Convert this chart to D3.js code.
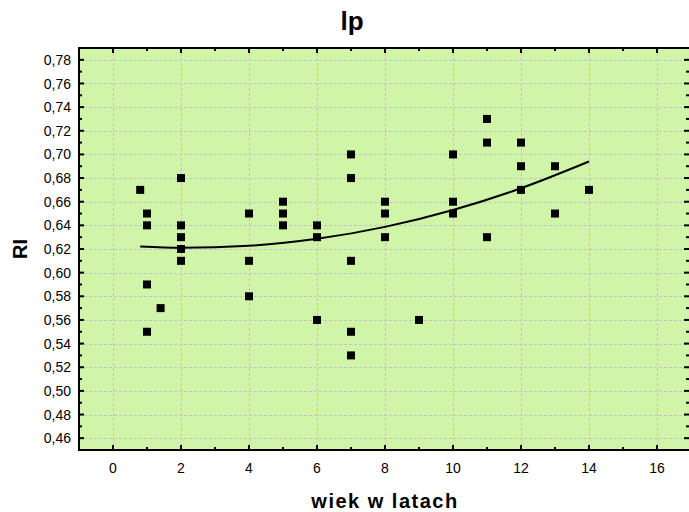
<!DOCTYPE html>
<html><head><meta charset="utf-8">
<script src="https://cdn.jsdelivr.net/npm/d3@7"></script>
<style>body{margin:0;background:#fff}svg{display:block}</style>
</head><body>
<script>
const title = "lp";
const xTitle = "wiek w latach";
const yTitle = "RI";
const ageX = [0.8,1,1,1,1,1.4,2,2,2,2,2,4,4,4,5,5,5,6,6,6,7,7,7,7,7,8,8,8,9,10,10,10,11,11,11,12,12,12,13,13,14];
const riY  = [0.67,0.65,0.64,0.59,0.55,0.57,0.68,0.64,0.63,0.62,0.61,0.65,0.61,0.58,0.66,0.65,0.64,0.64,0.63,0.56,0.70,0.68,0.61,0.55,0.53,0.66,0.65,0.63,0.56,0.70,0.66,0.65,0.73,0.71,0.63,0.71,0.69,0.67,0.69,0.65,0.67];
// fitted trend curve
const fitX = [0.8, 2, 4, 6, 8, 10, 12, 14];
const fitY = [0.6222, 0.6210, 0.6227, 0.6286, 0.6387, 0.6530, 0.6714, 0.6940];
const xTicks = [0,2,4,6,8,10,12,14,16];
const yTicks = [0.46,0.48,0.50,0.52,0.54,0.56,0.58,0.60,0.62,0.64,0.66,0.68,0.70,0.72,0.74,0.76,0.78];

const W = 689, H = 512;
const L = 79, T = 48, R = 691, B = 450;
const svg = d3.select("body").append("svg").attr("width", W).attr("height", H);
const x = d3.scaleLinear().domain([-1, 17]).range([L, R]);
const y = d3.scaleLinear().domain([0.45, 0.79]).range([B, T]);

svg.append("rect").attr("x", L).attr("y", T).attr("width", R - L).attr("height", B - T).attr("fill", "#d0f5a8");

// grid
const g = svg.append("g").attr("stroke", "#c4c4c4").attr("stroke-width", 1).attr("stroke-dasharray", "3,2");
xTicks.forEach(v => g.append("line").attr("x1", Math.round(x(v)) + 0.5).attr("x2", Math.round(x(v)) + 0.5).attr("y1", T).attr("y2", B));
yTicks.forEach(v => g.append("line").attr("y1", Math.round(y(v)) + 0.5).attr("y2", Math.round(y(v)) + 0.5).attr("x1", L).attr("x2", R));

svg.append("path").attr("d", d3.line().x((d, i) => x(fitX[i])).y((d, i) => y(fitY[i])).curve(d3.curveMonotoneX)(fitX))
  .attr("fill", "none").attr("stroke", "#000").attr("stroke-width", 2);

// points
svg.append("g").selectAll("rect").data(ageX.map((v, i) => [v, riY[i]])).join("rect")
  .attr("x", d => x(d[0]) - 4).attr("y", d => y(d[1]) - 4).attr("width", 8).attr("height", 8).attr("fill", "#000");

// axes with inward ticks
const minorX = d3.range(-1, 18, 1);
const minorY = d3.range(0.45, 0.7905, 0.01);
const ax = svg.append("g").attr("stroke", "#000");
minorX.forEach(v => {
  const major = xTicks.includes(v);
  const len = major ? 5 : 3;
  ax.append("line").attr("x1", x(v)).attr("x2", x(v)).attr("y1", B).attr("y2", B - len).attr("stroke-width", 2);
  ax.append("line").attr("x1", x(v)).attr("x2", x(v)).attr("y1", T).attr("y2", T + len).attr("stroke-width", 2);
});
minorY.forEach((v, i) => {
  const major = i % 2 === 1;
  const len = major ? 5 : 3;
  ax.append("line").attr("x1", L).attr("x2", L + len).attr("y1", y(v)).attr("y2", y(v)).attr("stroke-width", 2);
  ax.append("line").attr("x1", R).attr("x2", R - len - 2).attr("y1", y(v)).attr("y2", y(v)).attr("stroke-width", 2);
});
svg.append("rect").attr("x", L).attr("y", T).attr("width", R - L).attr("height", B - T)
  .attr("fill", "none").attr("stroke", "#000").attr("stroke-width", 2);

// tick labels
const font = "Liberation Sans, Arial, sans-serif";
svg.append("g").selectAll("text").data(yTicks).join("text")
  .attr("x", L - 8).attr("y", d => y(d)).attr("dy", "0.36em").attr("text-anchor", "end")
  .attr("font-family", font).attr("font-size", 14).attr("fill", "#000")
  .text(d => d3.format(".2f")(d).replace(".", ","));
svg.append("g").selectAll("text").data(xTicks).join("text")
  .attr("x", d => x(d)).attr("y", B + 23).attr("text-anchor", "middle")
  .attr("font-family", font).attr("font-size", 14).attr("fill", "#000")
  .text(d => d);

// titles
svg.append("text").attr("x", 352).attr("y", 30).attr("text-anchor", "middle")
  .attr("font-family", font).attr("font-weight", "bold").attr("font-size", 26).text(title);
svg.append("text").attr("x", 385).attr("y", 508).attr("text-anchor", "middle")
  .attr("font-family", font).attr("font-weight", "bold").attr("font-size", 20).attr("letter-spacing", 1.5).text(xTitle);
svg.append("text").attr("transform", "translate(27,249) rotate(-90)").attr("text-anchor", "middle")
  .attr("font-family", font).attr("font-weight", "bold").attr("font-size", 20).text(yTitle);
</script>
</body></html>
